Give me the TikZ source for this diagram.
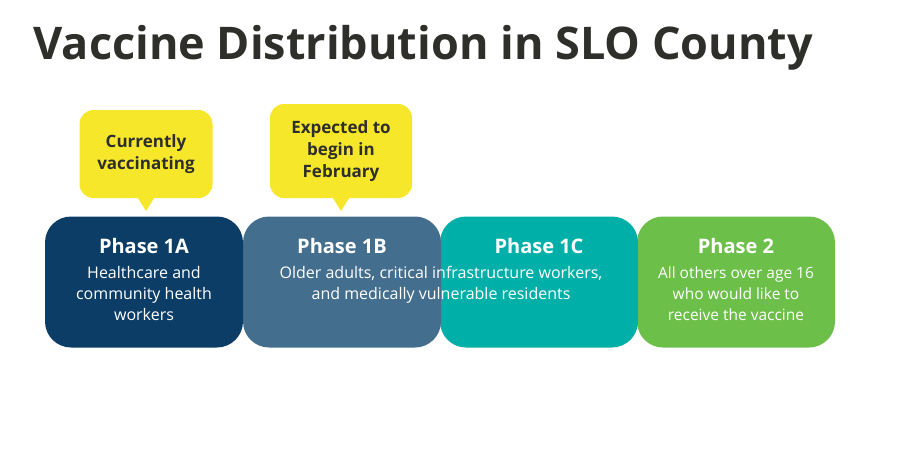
\documentclass[tikz,border=0pt]{standalone}
\usepackage{fontspec}
\setmainfont{Open Sans}
\usetikzlibrary{positioning}
\definecolor{navy}{HTML}{0B3D66}
\definecolor{steel}{HTML}{446E8E}
\definecolor{teal}{HTML}{00B0A8}
\definecolor{leaf}{HTML}{6CC04A}
\definecolor{callout}{HTML}{F6E72A}
\definecolor{ink}{HTML}{2E2E2A}

\begin{document}
\begin{tikzpicture}[x=1pt, y=-1pt,
    phase/.style={rounded corners=26pt, minimum width=198pt, minimum height=131pt, inner sep=0pt},
    head/.style={text=white, font=\fontsize{20}{24}\selectfont\bfseries},
    body/.style={text=white, align=center, font=\fontsize{16}{21}\selectfont},
    tag/.style={fill=callout, rounded corners=14pt, align=center, text=ink, font=\fontsize{17}{22}\selectfont\bfseries}
]
\useasboundingbox (0,0) rectangle (900,450);

% --- Title ---
\node[anchor=west, text=ink, font=\fontsize{45}{50}\selectfont\bfseries] (title) at (30,48) {Vaccine Distribution in SLO County};

% --- Phase blocks ---
\node[phase, fill=leaf] (p2) at (736,282) {};
\node[phase, fill=teal] (p1c) at (539,282) {};
\node[phase, fill=steel] (p1b) at (342,282) {};
\node[phase, fill=navy] (p1a) at (144,282) {};

% --- Block texts ---
\node[head] (h1a) at (144,246) {Phase 1A};
\node[head] (h1b) at (342,246) {Phase 1B};
\node[head] (h1c) at (539,246) {Phase 1C};
\node[head] (h2) at (736,246) {Phase 2};
\node[body, anchor=north] (t1a) at (144,263) {Healthcare and\\community health\\workers};
\node[body, anchor=north] (t1b) at (441,263) {Older adults, critical infrastructure workers,\\and medically vulnerable residents};
\node[body, anchor=north, font=\fontsize{15.5}{21}\selectfont] (t2) at (736,263) {All others over age 16\\who would like to\\receive the vaccine};

% --- Callouts ---
\node[tag, minimum width=133pt, minimum height=88pt] (now) at (146,154) {Currently\\vaccinating};
\fill[callout] ([xshift=-8pt]now.south) -- (now.south |- 0,211) -- ([xshift=8pt]now.south) -- cycle;
\node[tag, minimum width=142pt, minimum height=94pt] (feb) at (341,151) {Expected to\\begin in\\February};
\fill[callout] ([xshift=-8pt]feb.south) -- (feb.south |- 0,211) -- ([xshift=8pt]feb.south) -- cycle;
\end{tikzpicture}
\end{document}
